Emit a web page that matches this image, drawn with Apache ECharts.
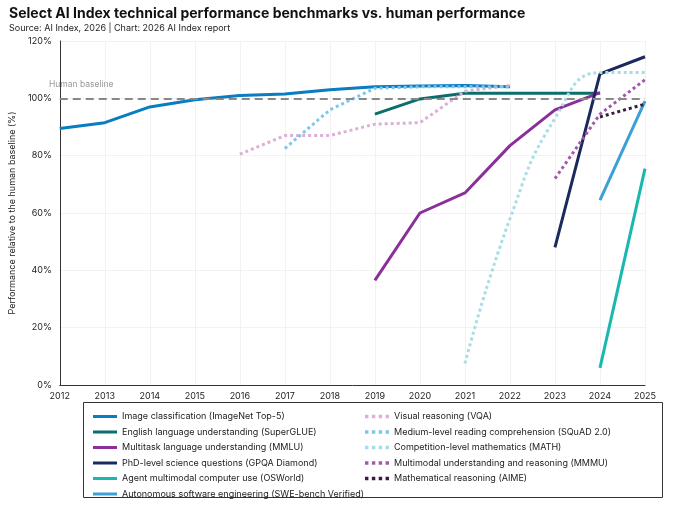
<!DOCTYPE html>
<html>
<head>
<meta charset="utf-8">
<script src="https://cdn.jsdelivr.net/npm/echarts@6/dist/echarts.min.js"></script>
<style>html,body{margin:0;padding:0;background:#fff;}#chart{width:680px;height:505px;}</style>
</head>
<body>
<div id="chart"></div>
<script>
// Select AI Index benchmarks vs. human baseline
var years = ['2012','2013','2014','2015','2016','2017','2018','2019','2020','2021','2022','2023','2024','2025'];

var imagenet = [89.5, 91.5, 97, 99.5, 101, 101.5, 103, 104, 104.3, 104.5, 104, null, null, null];
var superglue = [null, null, null, null, null, null, null, 94.5, 99.8, 101.8, 101.8, 101.8, 101.8, null];
var mmlu = [null, null, null, null, null, null, null, 36.5, 60, 67, 83.5, 96, 102, null];
var gpqa = [null, null, null, null, null, null, null, null, null, null, null, 48, 108.5, 114.5];
var osworld = [null, null, null, null, null, null, null, null, null, null, null, null, 6, 75.5];
var swebench = [null, null, null, null, null, null, null, null, null, null, null, null, 64.5, 99];
var vqa = [null, null, null, null, 80.5, 87, 87, 91, 91.5, 102.5, 104.5, null, null, null];
var squad = [null, null, null, null, null, 82.5, 96, 103.5, 104, 104, 104, null, null, null];
var math = [null, null, null, null, null, null, null, null, null, 7.5, 58, 93, 109, 109];
var mmmu = [null, null, null, null, null, null, null, null, null, null, null, 72, 94.5, 106.5];
var aime = [null, null, null, null, null, null, null, null, null, null, null, null, 93.5, 98];

var defs = [
  { name: 'Image classification (ImageNet Top-5)', data: imagenet, color: '#0a7cc1', dot: false },
  { name: 'English language understanding (SuperGLUE)', data: superglue, color: '#0b6e6a', dot: false },
  { name: 'Multitask language understanding (MMLU)', data: mmlu, color: '#8b2f9a', dot: false },
  { name: 'PhD-level science questions (GPQA Diamond)', data: gpqa, color: '#1b2a5c', dot: false },
  { name: 'Agent multimodal computer use (OSWorld)', data: osworld, color: '#18b8b0', dot: false },
  { name: 'Autonomous software engineering (SWE-bench Verified)', data: swebench, color: '#3aa0d6', dot: false },
  { name: 'Visual reasoning (VQA)', data: vqa, color: '#dcb0d6', dot: true },
  { name: 'Medium-level reading comprehension (SQuAD 2.0)', data: squad, color: '#7cc8e8', dot: true },
  { name: 'Competition-level mathematics (MATH)', data: math, color: '#a9dde6', dot: true, smooth: true },
  { name: 'Multimodal understanding and reasoning (MMMU)', data: mmmu, color: '#a05aa8', dot: true },
  { name: 'Mathematical reasoning (AIME)', data: aime, color: '#3b1a40', dot: true }
];

var series = defs.map(function(d) {
  return {
    name: d.name, type: 'line', data: d.data, showSymbol: false, smooth: d.smooth ? 0.5 : false,
    color: d.color,
    lineStyle: { color: d.color, width: 3, type: d.dot ? [3, 3] : 'solid' },
    z: d.dot ? 3 : 2
  };
});
series.push({
  type: 'line', data: [], silent: true,
  markLine: {
    symbol: 'none', silent: true,
    lineStyle: { color: '#888', type: [8, 5], width: 2 },
    label: { show: false },
    data: [{ yAxis: 100 }]
  }
});

var chart = echarts.init(document.getElementById('chart'));
chart.setOption({
  animation: false,
  textStyle: { fontFamily: 'Inter, "Noto Sans", sans-serif' },
  title: {
    text: 'Select AI Index technical performance benchmarks vs. human performance',
    subtext: 'Source: AI Index, 2026 | Chart: 2026 AI Index report',
    left: 4, top: 2, itemGap: 3,
    textStyle: { fontSize: 14, fontWeight: 'bold', color: '#111' },
    subtextStyle: { fontSize: 9, color: '#222' }
  },
  grid: { left: 48, right: 35, top: 41, bottom: 120 },
  xAxis: {
    type: 'category', data: years, boundaryGap: false,
    axisLine: { lineStyle: { color: '#333' } },
    axisTick: { show: false },
    axisLabel: { fontSize: 9, color: '#222', margin: 7 },
    splitLine: { show: true, lineStyle: { color: '#f2f2f2' } }
  },
  yAxis: {
    type: 'value', min: 0, max: 120, interval: 20,
    name: 'Performance relative to the human baseline (%)',
    nameLocation: 'middle', nameGap: 34, nameTextStyle: { fontSize: 9, color: '#222' },
    axisLine: { show: true, lineStyle: { color: '#333' } },
    axisLabel: { fontSize: 9, color: '#222', formatter: '{value}%' },
    splitLine: { lineStyle: { color: '#f2f2f2' } }
  },
  graphic: [
    { type: 'text', left: 49, top: 80, style: { text: 'Human baseline', fontSize: 8.5, fill: '#999', fontFamily: 'Inter, sans-serif' } },
    { type: 'rect', shape: { x: 83.5, y: 402.5, width: 579, height: 95 }, style: { fill: 'none', stroke: '#333', lineWidth: 1 } }
  ],
  legend: [
    {
      data: defs.slice(0, 6).map(function(d) { return d.name; }),
      orient: 'vertical', left: 88, top: 407, itemGap: 6.5, itemWidth: 24, itemHeight: 10,
      icon: 'path://M0,4h24v3h-24z',
      textStyle: { fontSize: 9, color: '#222' }
    },
    {
      data: defs.slice(6).map(function(d) { return d.name; }),
      orient: 'vertical', left: 360, top: 407, itemGap: 6.5, itemWidth: 24, itemHeight: 10,
      icon: 'path://M0,4h3v3h-3zM6,4h3v3h-3zM12,4h3v3h-3zM18,4h3v3h-3z',
      textStyle: { fontSize: 9, color: '#222' }
    }
  ],
  series: series
});
</script>
</body>
</html>
